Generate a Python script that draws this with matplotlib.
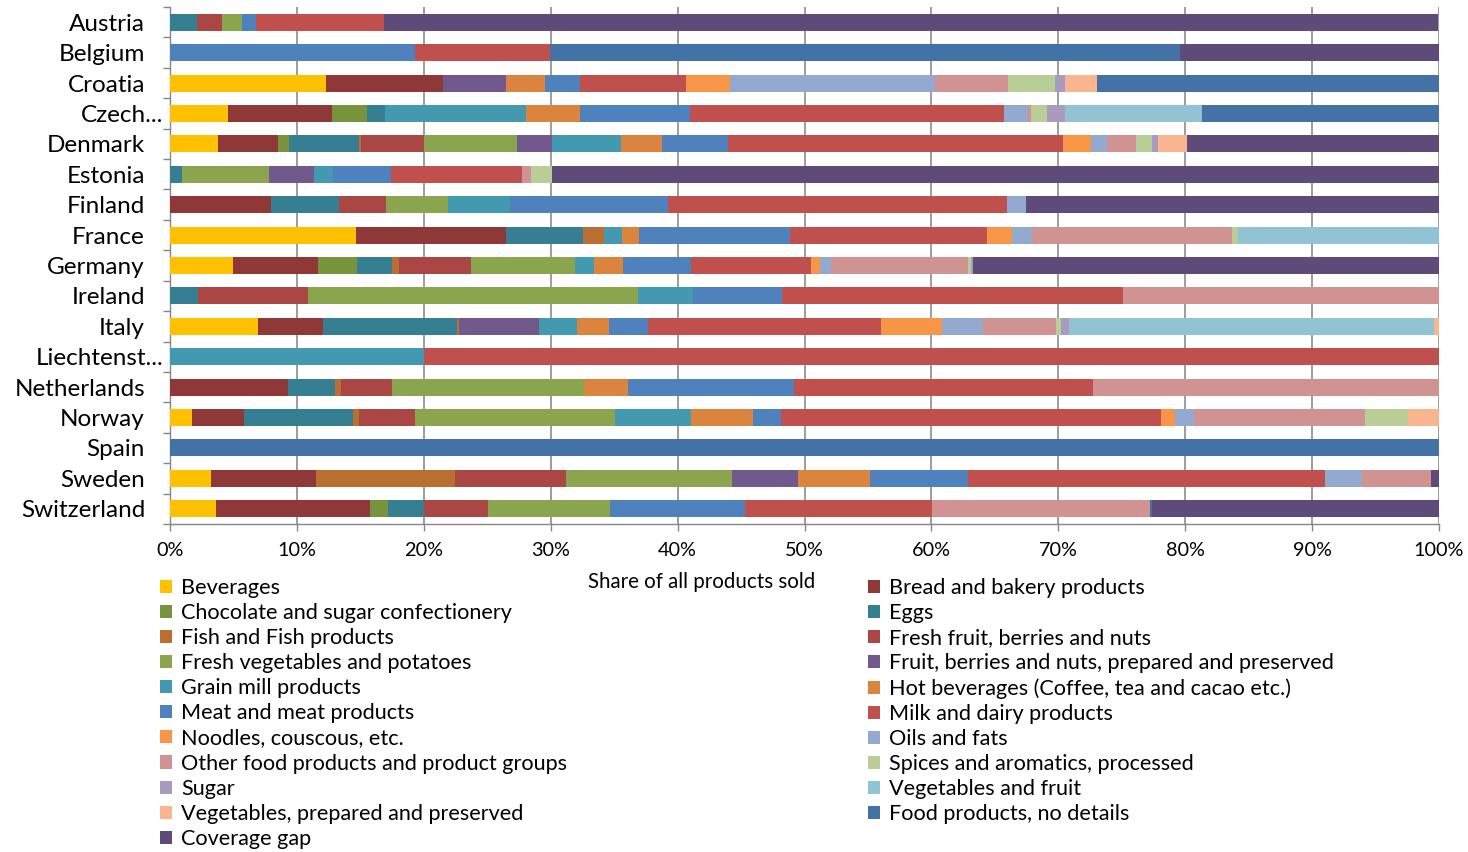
import matplotlib
matplotlib.use("Agg")
import matplotlib.pyplot as plt
from matplotlib.patches import Patch
from matplotlib.ticker import FixedLocator, FuncFormatter
from matplotlib.transforms import ScaledTranslation
import numpy as np

plt.rcParams['font.family'] = ['Lato', 'DejaVu Sans']

countries = ["Austria", "Belgium", "Croatia", "Czech...", "Denmark", "Estonia", "Finland",
             "France", "Germany", "Ireland", "Italy", "Liechtenst...", "Netherlands",
             "Norway", "Spain", "Sweden", "Switzerland"]

beverages       = [0, 0, 12.32, 4.58, 3.82, 0, 0, 14.67, 4.93, 0, 6.93, 0, 0, 1.73, 0, 3.2, 3.66]
bread           = [0, 0, 9.18, 8.17, 4.67, 0, 7.94, 11.8, 6.74, 0, 5.16, 0, 9.31, 4.08, 0, 8.27, 12.12]
chocolate       = [0, 0, 0, 2.75, 0.88, 0, 0, 0, 3.04, 0, 0, 0, 0, 0, 0, 0, 1.41]
eggs            = [2.1, 0, 0, 1.47, 5.56, 0.98, 5.39, 6.05, 2.77, 2.22, 10.49, 0, 3.66, 8.63, 0, 0, 2.81]
fish            = [0, 0, 0, 0, 0.1, 0, 0, 1.66, 0.59, 0, 0.16, 0, 0.49, 0.49, 0, 10.98, 0]
fresh_fruit     = [1.96, 0, 0, 0, 4.97, 0, 3.73, 0, 5.62, 8.63, 0, 0, 4.02, 4.41, 0, 8.73, 5.03]
fresh_veg       = [1.6, 0, 0, 0, 7.32, 6.8, 4.87, 0, 8.21, 26.01, 0, 0, 15.16, 15.72, 0, 13.14, 9.68]
fruit_prep      = [0, 0, 4.97, 0, 2.78, 3.53, 0, 0, 0, 0, 6.34, 0, 0, 0, 0, 5.19, 0]
grain_mill      = [0, 0, 0, 11.05, 5.46, 1.5, 4.9, 1.47, 1.5, 4.35, 3.01, 20.0, 0, 5.98, 0, 0, 0]
hot_bev         = [0, 0, 3.1, 4.28, 3.23, 0, 0, 1.34, 2.29, 0, 2.48, 0, 3.43, 4.87, 0, 5.67, 0]
meat            = [1.08, 19.28, 2.71, 8.69, 5.2, 4.58, 12.42, 11.87, 5.39, 6.99, 3.1, 0, 13.07, 2.25, 0, 7.69, 10.62]
milk            = [10.1, 10.65, 8.4, 24.77, 26.4, 10.32, 26.73, 15.53, 9.42, 26.87, 18.35, 80.0, 23.6, 29.95, 0, 28.12, 14.72]
noodles         = [0, 0, 3.43, 0, 2.19, 0, 0, 1.99, 0.76, 0, 4.84, 0, 0, 1.09, 0, 0, 0]
oils            = [0, 0, 16.16, 1.86, 1.26, 0, 1.46, 1.52, 0.79, 0, 3.22, 0, 0, 1.46, 0, 2.95, 0]
other           = [0, 0, 5.77, 0.26, 2.32, 0.72, 0, 15.75, 10.81, 24.93, 5.74, 0, 27.25, 13.49, 0, 5.44, 17.14]
spices          = [0, 0, 3.71, 1.23, 1.19, 1.67, 0, 0.5, 0.24, 0, 0.36, 0, 0, 3.38, 0, 0, 0]
sugar           = [0, 0, 0.76, 1.42, 0.5, 0, 0, 0, 0.2, 0, 0.66, 0, 0, 0, 0, 0, 0]
veg_fruit       = [0, 0, 0, 10.78, 0, 0, 0, 15.85, 0, 0, 28.78, 0, 0, 0, 0, 0, 0]
veg_prep        = [0, 0, 2.52, 0, 2.26, 0, 0, 0, 0, 0, 0.36, 0, 0, 2.45, 0, 0, 0]
food_no_details = [0, 49.67, 26.96, 18.7, 0, 0, 0, 0, 0, 0, 0, 0, 0, 0, 100, 0, 0.23]
coverage_gap    = [83.1, 20.4, 0, 0, 19.89, 69.9, 32.56, 0, 36.7, 0, 0, 0, 0, 0, 0, 0.63, 22.58]

series_names = ["Beverages", "Bread and bakery products", "Chocolate and sugar confectionery",
                "Eggs", "Fish and Fish products", "Fresh fruit, berries and nuts",
                "Fresh vegetables and potatoes", "Fruit, berries and nuts, prepared and preserved",
                "Grain mill products", "Hot beverages (Coffee, tea and cacao etc.)",
                "Meat and meat products", "Milk and dairy products", "Noodles, couscous, etc.",
                "Oils and fats", "Other food products and product groups",
                "Spices and aromatics, processed", "Sugar", "Vegetables and fruit",
                "Vegetables, prepared and preserved", "Food products, no details", "Coverage gap"]

series_values = [beverages, bread, chocolate, eggs, fish, fresh_fruit, fresh_veg, fruit_prep,
                 grain_mill, hot_bev, meat, milk, noodles, oils, other, spices, sugar,
                 veg_fruit, veg_prep, food_no_details, coverage_gap]

colors = ["#FFC000", "#8E3937", "#77933C", "#367F92", "#B86F31", "#AA4644", "#8BA54E",
          "#71598E", "#4399AF", "#DB843D", "#4F81BD", "#C0504D", "#F79646", "#94A9CF",
          "#D19392", "#B9CD96", "#A99BBD", "#92C3D4", "#F9B590", "#4572A6", "#5F4B7A"]

W, H = 1468, 852
fig = plt.figure(figsize=(W / 100, H / 100), dpi=100)
ax = fig.add_axes([170 / W, 1 - 524 / H, (1439 - 170) / W, (524 - 7) / H])

y = np.arange(len(countries))
left = np.zeros(len(countries))
for vals, col in zip(series_values, colors):
    v = np.array(vals, dtype=float)
    ax.barh(y, v, left=left, height=0.56, color=col, linewidth=0, zorder=3)
    left += v

ax.set_xlim(0, 100)
ax.set_ylim(len(countries) - 0.5, -0.5)
ax.set_xticks(np.arange(0, 101, 10))
ax.xaxis.set_major_formatter(FuncFormatter(lambda v, p: f"{int(round(v))}%"))
ax.set_yticks(y)
ax.set_yticklabels(countries)
ax.yaxis.set_minor_locator(FixedLocator(np.arange(-0.5, len(countries), 1)))
ax.tick_params(axis='y', which='major', length=0, pad=18, labelsize=17.5, labelcolor='#000000')
ax.tick_params(axis='y', which='minor', length=5, color='#868686', width=1)
ax.tick_params(axis='x', which='major', length=5, color='#868686', width=1, labelsize=14.3, pad=8)
ax.grid(axis='x', color='#8c8c8c', linewidth=1.2, zorder=0)
for s in ['top', 'right']:
    ax.spines[s].set_visible(False)
for s in ['left', 'bottom']:
    ax.spines[s].set_color('#868686')
    ax.spines[s].set_linewidth(1)

# truncated labels sit further right in the reference
for lab in ax.get_yticklabels():
    if lab.get_text().endswith("..."):
        lab.set_transform(lab.get_transform() + ScaledTranslation(0.18, 0, fig.dpi_scale_trans))

fig.text(702 / W, 1 - 582 / H, "Share of all products sold", ha='center', va='center', fontsize=14.8)

handles = [Patch(facecolor=c, edgecolor='none') for c in colors]
left_idx = list(range(0, 21, 2))
right_idx = list(range(1, 21, 2))
common = dict(frameon=False, fontsize=15.6, handlelength=0.55, handleheight=0.55,
              handletextpad=0.42, labelspacing=0.235, borderpad=0, borderaxespad=0)
fig.legend([handles[i] for i in left_idx], [series_names[i] for i in left_idx],
           loc='upper left', bbox_to_anchor=(160 / W, 1 - 578 / H), **common)
fig.legend([handles[i] for i in right_idx], [series_names[i] for i in right_idx],
           loc='upper left', bbox_to_anchor=(868 / W, 1 - 578 / H), **common)

fig.savefig("out.png", dpi=100)
